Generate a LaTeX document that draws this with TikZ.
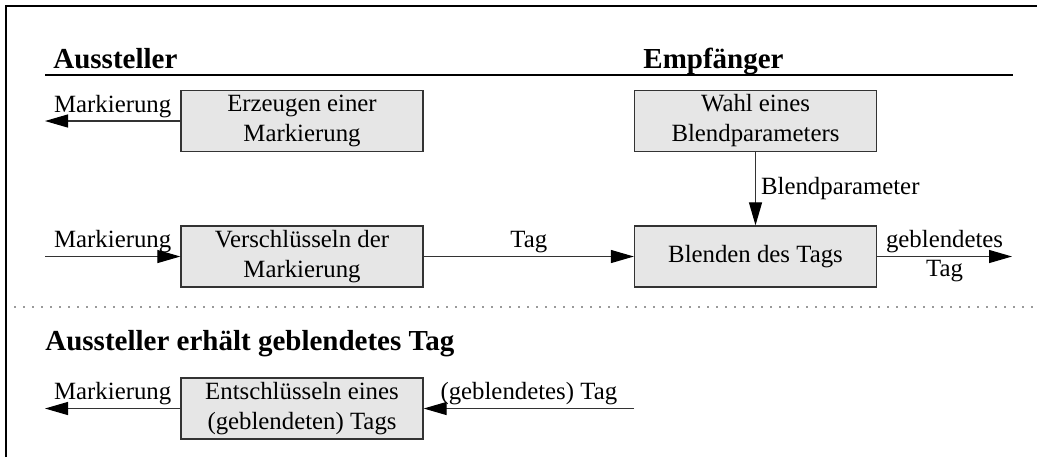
\documentclass[tikz,border=0pt]{standalone}
\usepackage{fontspec}
\setmainfont{Liberation Serif}
\usetikzlibrary{arrows.meta}
\definecolor{boxfill}{HTML}{E6E6E6}
\definecolor{linegray}{HTML}{333333}
\begin{document}
\begin{tikzpicture}[x=0.5pt,y=-0.5pt,
  procbox/.style={draw=linegray, line width=0.65pt, fill=boxfill, minimum width=121pt, minimum height=30.5pt,
    inner sep=0pt, align=center, font=\fontsize{12.4}{15}\selectfont},
  flow/.style={draw=linegray, line width=0.6pt, -{Triangle[length=11.5pt,width=6.5pt,color=black]}},
  lbl/.style={font=\fontsize{12.4}{15}\selectfont, inner sep=1.5pt},
  heading/.style={font=\fontsize{14.5}{17}\selectfont\bfseries, inner sep=0pt, anchor=base west},
  rule/.style={draw=black, line width=0.55pt}
]
\useasboundingbox (0,0) rectangle (1037,457);
% frame (top and left)
\draw[line width=0.6pt] (6,457) -- (6,6) -- (1037,6);

% headings
\node[heading] (hA) at (53,68) {Aussteller};
\node[heading] (hE) at (643,68) {Empfänger};
\coordinate (r1) at (45,75);
\coordinate (r2) at (1013,75);
\draw[rule] (r1) -- (r2);

% boxes
\node[procbox] (erz) at (302,121) {Erzeugen einer\\Markierung};
\node[procbox] (wahl) at (755.5,121) {Wahl eines\\Blendparameters};
\node[procbox] (ver) at (302,256.5) {Verschlüsseln der\\Markierung};
\node[procbox] (bl) at (755.5,256.5) {Blenden des Tags};
\node[procbox] (ent) at (302,408.5) {Entschlüsseln eines\\(geblendeten) Tags};

% free ends
\coordinate (o1) at (45,121);
\coordinate (i2) at (45,256.5);
\coordinate (o3) at (1012,256.5);
\coordinate (o4) at (45,408.5);
\coordinate (i5) at (634,408.5);

\draw[flow] (erz.west) -- node[lbl,above] {Markierung} (o1);
\draw[flow] (wahl.south) -- node[lbl,right,xshift=1pt] {Blendparameter} (bl.north);
\draw[flow] (i2) -- node[lbl,above] {Markierung} (ver.west);
\draw[flow] (ver.east) -- node[lbl,above] {Tag} (bl.west);
\draw[flow] (bl.east) -- node[lbl,above] {geblendetes} node[lbl,below] {Tag} (o3);

% dotted separator
\coordinate (d1) at (15,307);
\coordinate (d2) at (1037,307);
\draw[line width=0.8pt, line cap=round, dash pattern=on 0pt off 4.5pt, draw=black!80] (d1) -- (d2);

\node[heading] (hB) at (45,350) {Aussteller erhält geblendetes Tag};

\draw[flow] (ent.west) -- node[lbl,above] {Markierung} (o4);
\draw[flow] (i5) -- node[lbl,above] {(geblendetes) Tag} (ent.east);
\end{tikzpicture}
\end{document}
